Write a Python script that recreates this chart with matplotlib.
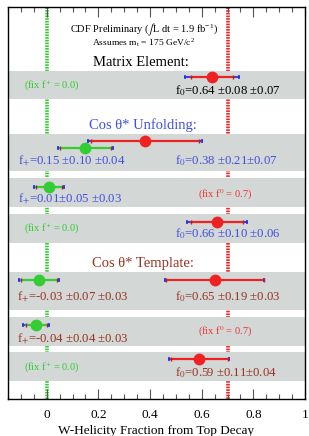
import numpy as np
import matplotlib
matplotlib.use('Agg')
import matplotlib.pyplot as plt
from matplotlib.ticker import MultipleLocator, FixedLocator, FixedFormatter

plt.rcParams['font.family'] = ['Liberation Serif', 'DejaVu Serif']
plt.rcParams['mathtext.fontset'] = 'stix'

# fit results (value, stat, syst)
f0_vals = [0.64, 0.38, 0.66, 0.65, 0.59]
f0_stat = [0.08, 0.21, 0.10, 0.19, 0.11]
f0_syst = [0.07, 0.07, 0.06, 0.03, 0.04]
fp_vals = [0.15, 0.01, -0.03, -0.04]
fp_stat = [0.10, 0.05, 0.07, 0.04]
fp_syst = [0.04, 0.03, 0.03, 0.03]

# row layout (vertical positions, top = small)
f0_ypos = [77, 141, 222, 280, 359]
fp_ypos = [148, 187, 280, 325]
bands = [(71, 99), (134, 171), (178, 207), (214, 243), (272, 310), (317, 346), (352, 381)]

tick_vals = [0, 0.2, 0.4, 0.6, 0.8, 1.0]
tick_labels = ['0', '0.2', '0.4', '0.6', '0.8', '1']

GREEN = '#33cc33'
RED = '#ee2222'
BLUE = '#2233ee'
TXT_BLUE = '#4050e0'
TXT_BROWN = '#993322'
TXT_RED = '#ee3333'
BAND = '#d3d7d5'

fig = plt.figure(figsize=(3.09, 4.36), dpi=100)
ax = fig.add_axes([8/309, 1-399/436, 297/309, 392/436])
ax.set_xlim(-0.15, 1.0)
ax.set_ylim(399, 7)

# dashed reference lines (behind the bands)
ax.axvline(0.0, color=GREEN, lw=2.6, ls=(0, (0.45, 0.3)), zorder=1)
ax.axvline(0.7, color=RED, lw=2.6, ls=(0, (0.45, 0.3)), zorder=1)

for lo, hi in bands:
    ax.axhspan(lo, hi, color=BAND, lw=0, zorder=2)


def draw_point(x, stat, syst, y, col):
    tot = np.sqrt(stat**2 + syst**2)
    ax.plot([x - tot, x + tot], [y, y], color=BLUE, lw=1.3, zorder=3)
    ax.plot([x - stat, x + stat], [y, y], color=col, lw=1.6, zorder=4)
    ax.plot([x - tot, x + tot], [y, y], ls='none', marker='|', ms=3, mew=1.2, color=BLUE, zorder=4)
    ax.plot([x - stat, x + stat], [y, y], ls='none', marker='|', ms=3, mew=1.0, color='#aa2233', zorder=4)
    ax.plot(x, y, 'o', color=col, ms=8.5, mec='none', zorder=5)


for v, s, e, y in zip(f0_vals, f0_stat, f0_syst, f0_ypos):
    draw_point(v, s, e, y, RED)
for v, s, e, y in zip(fp_vals, fp_stat, fp_syst, fp_ypos):
    draw_point(v, s, e, y, GREEN)

# text
kw = dict(ha='center', va='center', zorder=6)
ax.text(0.375, 30, r'CDF Preliminary ($\int$L dt = 1.9 fb$^{\mathregular{-1}}$)', fontsize=7.5, **kw)
ax.text(0.375, 43, r'Assumes m$_\mathregular{t}$ = 175 GeV/c$^\mathregular{2}$', fontsize=6.8, **kw)
ax.text(0.365, 62, 'Matrix Element:', fontsize=10.5, color='black', **kw)
ax.text(0.372, 125, 'Cos θ* Unfolding:', fontsize=10.5, color=TXT_BLUE, **kw)
ax.text(0.372, 263, 'Cos θ* Template:', fontsize=10.5, color=TXT_BROWN, **kw)

ax.text(0.02, 85, r'(fix f$^{+}$ = 0.0)', fontsize=7.5, color=GREEN, **kw)
ax.text(0.02, 228, r'(fix f$^{+}$ = 0.0)', fontsize=7.5, color=GREEN, **kw)
ax.text(0.02, 367, r'(fix f$^{+}$ = 0.0)', fontsize=7.5, color=GREEN, **kw)
ax.text(0.69, 195, r'(fix f$^0$ = 0.7)', fontsize=7.5, color=TXT_RED, **kw)
ax.text(0.69, 332, r'(fix f$^0$ = 0.7)', fontsize=7.5, color=TXT_RED, **kw)

fs = 9.2
ax.text(0.70, 91, r'f$_0$=0.64 ±0.08 ±0.07', fontsize=fs, color='black', **kw)
ax.text(0.095, 161, r'f$_{+}$=0.15 ±0.10 ±0.04', fontsize=fs, color=TXT_BLUE, **kw)
ax.text(0.695, 161, r'f$_0$=0.38 ±0.21±0.07', fontsize=fs, color=TXT_BLUE, **kw)
ax.text(0.09, 199, r'f$_{+}$=0.01±0.05 ±0.03', fontsize=fs, color=TXT_BLUE, **kw)
ax.text(0.70, 234, r'f$_0$=0.66 ±0.10 ±0.06', fontsize=fs, color=TXT_BLUE, **kw)
ax.text(0.10, 297, r'f$_{+}$=-0.03 ±0.07 ±0.03', fontsize=fs, color=TXT_BROWN, **kw)
ax.text(0.70, 297, r'f$_0$=0.65 ±0.19 ±0.03', fontsize=fs, color=TXT_BROWN, **kw)
ax.text(0.10, 339, r'f$_{+}$=-0.04 ±0.04 ±0.03', fontsize=fs, color=TXT_BROWN, **kw)
ax.text(0.695, 373, r'f$_0$=0.59 ±0.11±0.04', fontsize=fs, color=TXT_BROWN, **kw)

# axes
ax.xaxis.set_major_locator(FixedLocator(tick_vals))
ax.xaxis.set_major_formatter(FixedFormatter(tick_labels))
ax.xaxis.set_minor_locator(MultipleLocator(0.05))
ax.tick_params(axis='x', which='both', direction='in', top=True, bottom=True, labelsize=9.5, pad=7)
ax.tick_params(axis='x', which='major', length=7, width=0.8, color='#555555')
ax.tick_params(axis='x', which='minor', length=3.5, width=0.8, color='#555555')
ax.set_yticks([])
for sp in ax.spines.values():
    sp.set_linewidth(1.0)
ax.set_xlabel('W-Helicity Fraction from Top Decay', fontsize=9.5, labelpad=3)

fig.savefig('out.png', dpi=100)
